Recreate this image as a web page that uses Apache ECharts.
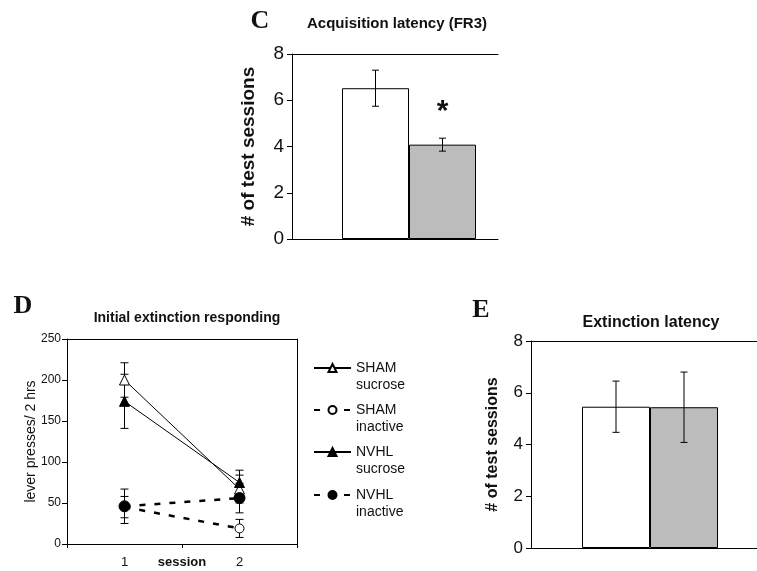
<!DOCTYPE html>
<html>
<head>
<meta charset="utf-8">
<script src="https://cdn.jsdelivr.net/npm/echarts@6/dist/echarts.min.js"></script>
<style>html,body{margin:0;padding:0;background:#fff}#c{width:757px;height:571px}</style>
</head>
<body>
<div id="c"></div>
<script>
// ---- Data ----
var groups = ['SHAM', 'NVHL'];
var barColors = ['#ffffff', '#bcbcbc'];
// Panel C: Acquisition latency (FR3)
var acqMeans = [6.52, 4.08];
var acqErrs = [0.78, 0.28];
// Panel E: Extinction latency
var extMeans = [5.46, 5.44];
var extErrs = [0.99, 1.36];
var latencyTicks = [0, 2, 4, 6, 8];
// Panel D: Initial extinction responding
var sessions = ['1', '2'];
var shamSucrose = [200, 67];
var shamSucroseErr = [21, 17];
var shamInactive = [45, 19];
var shamInactiveErr = [13, 11];
var nvhlSucrose = [174, 75];
var nvhlSucroseErr = [33, 15];
var nvhlInactive = [46, 56];
var nvhlInactiveErr = [21, 18];
var pressTicks = [0, 50, 100, 150, 200, 250];

var SANS = "'Liberation Sans', Arial, sans-serif";
var SERIF = "'Liberation Serif', 'Times New Roman', serif";
var INK = '#111';

function errRender(capHalf) {
  return function (params, api) {
    var x = api.value(0), m = api.value(1), e = api.value(2);
    var hi = api.coord([x, m + e]);
    var lo = api.coord([x, m - e]);
    var st = { stroke: '#000', lineWidth: 1 };
    return {
      type: 'group',
      children: [
        { type: 'line', shape: { x1: hi[0], y1: hi[1], x2: lo[0], y2: lo[1] }, style: st },
        { type: 'line', shape: { x1: hi[0] - capHalf, y1: hi[1], x2: hi[0] + capHalf, y2: hi[1] }, style: st },
        { type: 'line', shape: { x1: lo[0] - capHalf, y1: lo[1], x2: lo[0] + capHalf, y2: lo[1] }, style: st }
      ]
    };
  };
}
function errData(means, errs) {
  return means.map(function (m, i) { return [i, m, errs[i]]; });
}
function hiddenAxis(extra) {
  var a = { show: true, axisLine: { show: false }, axisTick: { show: false }, axisLabel: { show: false }, splitLine: { show: false } };
  for (var k in extra) a[k] = extra[k];
  return a;
}
function lineOnlyAxis(extra) {
  var a = { type: 'value', min: 0, max: 1, axisLine: { show: true, onZero: false, lineStyle: { color: '#000', width: 1 } },
    axisTick: { show: false }, axisLabel: { show: false }, splitLine: { show: false } };
  for (var k in extra) a[k] = extra[k];
  return a;
}
function latencyYAxis(gridIndex, offset, labelSize, nameSize, nameGap) {
  return {
    type: 'value', gridIndex: gridIndex, min: latencyTicks[0], max: latencyTicks[latencyTicks.length - 1], interval: 2,
    offset: offset,
    axisLine: { show: true, lineStyle: { color: '#000', width: 1 } },
    axisTick: { show: true, length: 5, lineStyle: { color: '#000' } },
    axisLabel: { fontFamily: SANS, fontSize: labelSize, color: INK, margin: 8 },
    splitLine: { show: false },
    name: '# of test sessions', nameLocation: 'middle', nameGap: nameGap, nameMoveOverlap: false,
    nameTextStyle: { fontFamily: SANS, fontSize: nameSize, fontWeight: 'bold', color: INK }
  };
}
function grid(o) { o.outerBoundsMode = 'none'; o.containLabel = false; return o; }

var legendNames = ['SHAM sucrose', 'SHAM inactive', 'NVHL sucrose', 'NVHL inactive'];
var legendTops = [342.5, 384.5, 426.5, 469.5];

var chart = echarts.init(document.getElementById('c'), null, { renderer: 'canvas' });
var option = {
  animation: false,
  backgroundColor: '#fff',
  grid: [
    grid({ left: 342, right: 281, top: 54, height: 185 }),       // 0 C bars
    grid({ left: 292, right: 259, top: 54, height: 185 }),       // 1 C frame
    grid({ left: 67, right: 460, top: 339, height: 205 }),       // 2 D
    grid({ left: 582, right: 39, top: 341, height: 207 }),       // 3 E bars
    grid({ left: 531, right: -5, top: 341, height: 207 })        // 4 E frame
  ],
  xAxis: [
    hiddenAxis({ type: 'category', gridIndex: 0, data: groups }),
    lineOnlyAxis({ gridIndex: 1, position: 'bottom' }),
    lineOnlyAxis({ gridIndex: 1, position: 'top' }),
    {
      type: 'category', gridIndex: 2, data: sessions, position: 'bottom',
      axisLine: { show: true, onZero: false, lineStyle: { color: '#000' } },
      axisTick: { show: true, length: 4, lineStyle: { color: '#000' } },
      axisLabel: { fontFamily: SANS, fontSize: 13, color: INK, margin: 12 },
      splitLine: { show: false },
      name: 'session', nameLocation: 'middle', nameGap: 12, nameMoveOverlap: false,
      nameTextStyle: { fontFamily: SANS, fontSize: 13, fontWeight: 'bold', color: INK }
    },
    {
      type: 'category', gridIndex: 2, data: sessions, position: 'top',
      axisLine: { show: true, onZero: false, lineStyle: { color: '#000' } },
      axisTick: { show: false }, axisLabel: { show: false }, splitLine: { show: false }
    },
    hiddenAxis({ type: 'category', gridIndex: 3, data: groups }),
    lineOnlyAxis({ gridIndex: 4, position: 'bottom' }),
    lineOnlyAxis({ gridIndex: 4, position: 'top' })
  ],
  yAxis: [
    latencyYAxis(0, 50, 19, 19, 34),
    { type: 'value', gridIndex: 1, show: false },
    {
      type: 'value', gridIndex: 2, min: pressTicks[0], max: pressTicks[pressTicks.length - 1], interval: 50,
      axisLine: { show: true, lineStyle: { color: '#000' } },
      axisTick: { show: true, length: 5, lineStyle: { color: '#000' } },
      axisLabel: { fontFamily: SANS, fontSize: 12, color: INK, margin: 6 },
      splitLine: { show: false },
      name: 'lever presses/ 2 hrs', nameLocation: 'middle', nameGap: 29, nameMoveOverlap: false,
      nameTextStyle: { fontFamily: SANS, fontSize: 14, color: INK }
    },
    {
      type: 'value', gridIndex: 2, position: 'right', min: pressTicks[0], max: pressTicks[pressTicks.length - 1],
      axisLine: { show: true, lineStyle: { color: '#000' } },
      axisTick: { show: false }, axisLabel: { show: false }, splitLine: { show: false }
    },
    latencyYAxis(3, 51, 17, 16, 30),
    { type: 'value', gridIndex: 4, show: false }
  ],
  legend: legendNames.map(function (n, i) {
    return {
      data: [n], orient: 'vertical', left: 313, top: legendTops[i], padding: 0,
      itemWidth: 37, itemHeight: 10, itemGap: 0, selectedMode: false,
      formatter: function (name) { return '\n' + name.replace(' ', '\n'); },
      textStyle: { fontFamily: SANS, fontSize: 14, lineHeight: 17, color: INK }
    };
  }),
  graphic: [
    { type: 'text', x: 260, y: 21, style: { text: 'C', font: 'bold 26px ' + SERIF, fill: INK, textAlign: 'center', textVerticalAlign: 'middle' } },
    { type: 'text', x: 397, y: 24, style: { text: 'Acquisition latency (FR3)', font: 'bold 15px ' + SANS, fill: INK, textAlign: 'center', textVerticalAlign: 'middle' } },
    { type: 'text', x: 23, y: 306, style: { text: 'D', font: 'bold 26px ' + SERIF, fill: INK, textAlign: 'center', textVerticalAlign: 'middle' } },
    { type: 'text', x: 187, y: 318, style: { text: 'Initial extinction responding', font: 'bold 14px ' + SANS, fill: INK, textAlign: 'center', textVerticalAlign: 'middle' } },
    { type: 'text', x: 481, y: 310, style: { text: 'E', font: 'bold 26px ' + SERIF, fill: INK, textAlign: 'center', textVerticalAlign: 'middle' } },
    { type: 'text', x: 651, y: 323, style: { text: 'Extinction latency', font: 'bold 16px ' + SANS, fill: INK, textAlign: 'center', textVerticalAlign: 'middle' } }
  ],
  series: [
    {
      type: 'bar', xAxisIndex: 0, yAxisIndex: 0, barWidth: '100%', silent: true,
      data: acqMeans.map(function (v, i) {
        var d = { value: v, itemStyle: { color: barColors[i], borderColor: '#000', borderWidth: 1 } };
        if (i === 1) d.label = { show: true, position: 'top', formatter: '*', distance: 18, fontFamily: SANS, fontSize: 30, fontWeight: 'bold', color: INK };
        return d;
      })
    },
    { type: 'custom', xAxisIndex: 0, yAxisIndex: 0, renderItem: errRender(3.5), data: errData(acqMeans, acqErrs), encode: { x: 0, y: 1 }, z: 5, silent: true },
    {
      type: 'bar', xAxisIndex: 5, yAxisIndex: 4, barWidth: '100%', silent: true,
      data: extMeans.map(function (v, i) { return { value: v, itemStyle: { color: barColors[i], borderColor: '#000', borderWidth: 1 } }; })
    },
    { type: 'custom', xAxisIndex: 5, yAxisIndex: 4, renderItem: errRender(3.5), data: errData(extMeans, extErrs), encode: { x: 0, y: 1 }, z: 5, silent: true },
    // Panel D error bars
    { type: 'custom', xAxisIndex: 3, yAxisIndex: 2, renderItem: errRender(4), data: errData(shamSucrose, shamSucroseErr), encode: { x: 0, y: 1 }, z: 1, silent: true },
    { type: 'custom', xAxisIndex: 3, yAxisIndex: 2, renderItem: errRender(4), data: errData(shamInactive, shamInactiveErr), encode: { x: 0, y: 1 }, z: 1, silent: true },
    { type: 'custom', xAxisIndex: 3, yAxisIndex: 2, renderItem: errRender(4), data: errData(nvhlSucrose, nvhlSucroseErr), encode: { x: 0, y: 1 }, z: 1, silent: true },
    { type: 'custom', xAxisIndex: 3, yAxisIndex: 2, renderItem: errRender(4), data: errData(nvhlInactive, nvhlInactiveErr), encode: { x: 0, y: 1 }, z: 1, silent: true },
    // Panel D lines
    {
      name: 'SHAM sucrose', type: 'line', xAxisIndex: 3, yAxisIndex: 2, data: shamSucrose, z: 3, silent: true,
      symbol: 'triangle', symbolSize: 10, showAllSymbol: true,
      lineStyle: { color: '#000', width: 1, type: 'solid' },
      itemStyle: { color: '#fff', borderColor: '#000', borderWidth: 1 }
    },
    {
      name: 'SHAM inactive', type: 'line', xAxisIndex: 3, yAxisIndex: 2, data: shamInactive, z: 3, silent: true,
      symbol: 'circle', symbolSize: 9, showAllSymbol: true,
      lineStyle: { color: '#000', width: 2.5, type: [6, 9] },
      itemStyle: { color: '#fff', borderColor: '#000', borderWidth: 1 }
    },
    {
      name: 'NVHL sucrose', type: 'line', xAxisIndex: 3, yAxisIndex: 2, data: nvhlSucrose, z: 3, silent: true,
      symbol: 'triangle', symbolSize: 10, showAllSymbol: true,
      lineStyle: { color: '#000', width: 1, type: 'solid' },
      itemStyle: { color: '#000', borderColor: '#000', borderWidth: 1 }
    },
    {
      name: 'NVHL inactive', type: 'line', xAxisIndex: 3, yAxisIndex: 2, data: nvhlInactive, z: 3, silent: true,
      symbol: 'circle', symbolSize: 11, showAllSymbol: true,
      lineStyle: { color: '#000', width: 2.5, type: [6, 9] },
      itemStyle: { color: '#000', borderColor: '#000', borderWidth: 1 }
    }
  ]
};
chart.setOption(option);
</script>
</body>
</html>
